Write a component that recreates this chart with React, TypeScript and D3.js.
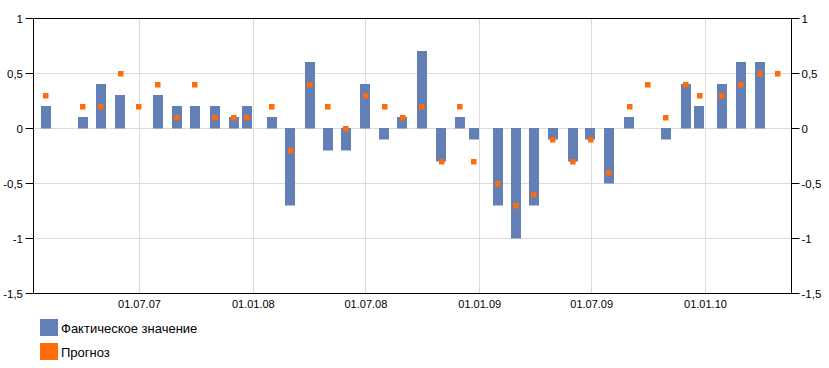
import React from 'react';
import * as d3 from 'd3';

const dates = [
  "2007-01-31", "2007-03-31", "2007-04-30", "2007-05-31", "2007-06-30",
  "2007-07-31", "2007-08-31", "2007-09-28", "2007-10-31", "2007-11-30",
  "2007-12-21", "2008-01-31", "2008-03-01", "2008-04-01", "2008-05-01",
  "2008-05-30", "2008-06-30", "2008-07-31", "2008-08-29", "2008-09-30",
  "2008-10-31", "2008-11-30", "2008-12-23", "2009-01-30", "2009-03-01",
  "2009-03-30", "2009-04-29", "2009-05-31", "2009-06-29", "2009-07-29",
  "2009-08-31", "2009-09-29", "2009-10-29", "2009-11-30", "2009-12-22",
  "2010-01-28", "2010-02-27", "2010-03-30", "2010-04-28"
];
const actual: (number | null)[] = [
  0.2, 0.1, 0.4, 0.3, null,
  0.3, 0.2, 0.2, 0.2, 0.1,
  0.2, 0.1, -0.7, 0.6, -0.2,
  -0.2, 0.4, -0.1, 0.1, 0.7,
  -0.3, 0.1, -0.1, -0.7, -1.0,
  -0.7, -0.1, -0.3, -0.1, -0.5,
  0.1, null, -0.1, 0.4, 0.2,
  0.4, 0.6, 0.6, null
];
const forecast: (number | null)[] = [
  0.3, 0.2, 0.2, 0.5, 0.2,
  0.4, 0.1, 0.4, 0.1, 0.1,
  0.1, 0.2, -0.2, 0.4, 0.2,
  0.0, 0.3, 0.2, 0.1, 0.2,
  -0.3, 0.2, -0.3, -0.5, -0.7,
  -0.6, -0.1, -0.3, -0.1, -0.4,
  0.2, 0.4, 0.1, 0.4, 0.3,
  0.3, 0.4, 0.5, 0.5
];
const yTicks = [1, 0.5, 0, -0.5, -1, -1.5];
const yTickLabels = ["1", "0,5", "0", "-0,5", "-1", "-1,5"];
const xTickDates = ["2007-07-01", "2008-01-01", "2008-07-01", "2009-01-01", "2009-07-01", "2010-01-01"];
const xTickLabels = ["01.07.07", "01.01.08", "01.07.08", "01.01.09", "01.07.09", "01.01.10"];
const seriesNames = ["Фактическое значение", "Прогноз"];
const seriesColors = ["#6380b6", "#ff6a0a"];

const W = 829, H = 368;
const L = 33.5, R = 791.5, T = 18.5, B = 293.5;
const FONT = "'Liberation Sans', Arial, sans-serif";

export default function App() {
  const parse = d3.utcParse("%Y-%m-%d");
  const x = d3.scaleUtc()
    .domain([parse("2007-07-01")!, parse("2010-01-01")!])
    .range([139.5, 705.5]);
  const y = d3.scaleLinear().domain([-1.5, 1]).range([B, T]);
  const y0 = y(0);

  return (
    <svg width={W} height={H} style={{ position: 'absolute', left: 0, top: 0, background: '#fff' }}
      fontFamily={FONT}>
      <rect x={0} y={0} width={W} height={H} fill="#fff" />
      {yTicks.map((t, i) => (
        <line key={'hg' + i} x1={L} x2={R} y1={y(t)} y2={y(t)} stroke="#dcdcdc" strokeWidth={1} />
      ))}
      {xTickDates.map((d, i) => {
        const xx = Math.round(x(parse(d)!) - 0.5) + 0.5;
        return <line key={'vg' + i} x1={xx} x2={xx} y1={T} y2={B} stroke="#dcdcdc" strokeWidth={1} />;
      })}
      {dates.map((d, i) => {
        const v = actual[i];
        if (v === null) return null;
        const xc = x(parse(d)!);
        const yv = y(v);
        const top = Math.min(yv, y0);
        const h = Math.abs(yv - y0);
        return <rect key={'b' + i} x={Math.round(xc - 5)} y={Math.round(top - 0.5)} width={10} height={Math.round(h) + 0.5}
          fill={seriesColors[0]} />;
      })}
      {dates.map((d, i) => {
        const v = forecast[i];
        if (v === null) return null;
        const xc = x(parse(d)!);
        const yv = y(v);
        return <rect key={'f' + i} x={Math.round(xc - 2.75)} y={Math.round(yv - 2.75)} width={5.5} height={5.5}
          fill={seriesColors[1]} />;
      })}
      <line x1={L} x2={R} y1={T} y2={T} stroke="#000" />
      <line x1={L} x2={R} y1={B} y2={B} stroke="#000" />
      <line x1={L} x2={L} y1={T} y2={B} stroke="#000" />
      <line x1={R} x2={R} y1={T} y2={B} stroke="#000" />
      {yTicks.map((t, i) => (
        <g key={'yt' + i}>
          <line x1={L - 8} x2={L} y1={y(t)} y2={y(t)} stroke="#000" />
          <line x1={R} x2={R + 8} y1={y(t)} y2={y(t)} stroke="#000" />
          <text x={23} y={y(t)} dy="0.35em" textAnchor="end" fontSize={11.5} fill="#000">{yTickLabels[i]}</text>
          <text x={801.5} y={y(t)} dy="0.35em" textAnchor="start" fontSize={11.5} fill="#000">{yTickLabels[i]}</text>
        </g>
      ))}
      {xTickDates.map((d, i) => (
        <text key={'xt' + i} x={x(parse(d)!)} y={308} textAnchor="middle" fontSize={11} fill="#000">{xTickLabels[i]}</text>
      ))}
      {seriesNames.map((n, i) => (
        <g key={'lg' + i}>
          <rect x={40} y={319 + i * 24} width={18} height={17} fill={seriesColors[i]} />
          <text x={61} y={333 + i * 24} fontSize={13} fill="#000">{n}</text>
        </g>
      ))}
    </svg>
  );
}
